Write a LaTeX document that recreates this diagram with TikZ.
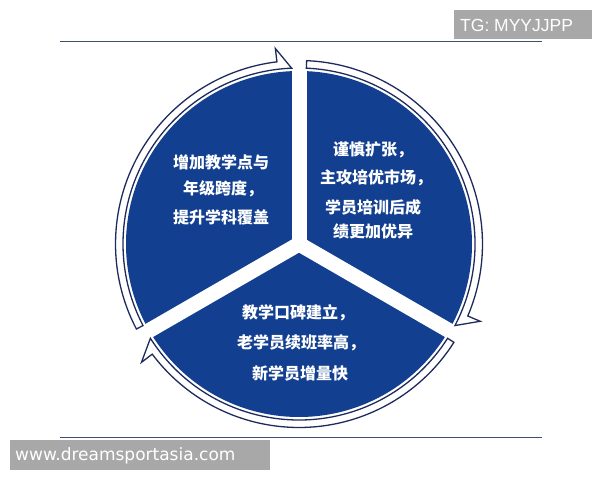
\documentclass[tikz,border=0pt]{standalone}
\usepackage{fontspec}
\newfontfamily\cjk{Noto Sans CJK SC}
\newfontfamily\wmfont{Liberation Sans}
\newfontfamily\urlfont{DejaVu Sans}
\definecolor{diskblue}{HTML}{123F8F}
\definecolor{navyline}{HTML}{1F2A5C}
\definecolor{rulecol}{HTML}{3E4D70}
\definecolor{wmgray}{HTML}{A8A8A8}
\begin{document}
\begin{tikzpicture}[x=1pt,y=1pt,
  ringstyle/.style={fill=white,draw=navyline,line width=1.3pt,line join=miter},
  spoke/.style={draw=white,line width=15pt,line cap=round},
  cjktext/.style={anchor=base west,inner sep=0pt,text=white,font=\cjk\bfseries\fontsize{16}{16}\selectfont},
  rulestyle/.style={draw=rulecol,line width=1.4pt},
  wmtext/.style={anchor=base west,inner sep=0pt,text=white}]
\useasboundingbox (0,0) rectangle (600,480);
\fill[white] (0,0) rectangle (600,480);
% rules
\draw[rulestyle] (60,438.5) -- (542,438.5);
\draw[rulestyle] (60,42.5) -- (542,42.5);
% disk
\coordinate (C) at (299,236);
\fill[diskblue] (C) circle[radius=173];
\foreach \a in {90,210,330} \draw[spoke] (C) -- ++(\a:174);
% ring arrows
\begin{scope}[shift={(C)}]
\draw[ringstyle] (207.6:183.5) arc[start angle=207.6,end angle=96.9,radius=183.5] -- (96.9:197) -- (92.4:176) arc[start angle=92.4,end angle=207.6,radius=176] -- cycle;
\draw[ringstyle] (87.6:183.5) arc[start angle=87.6,end angle=-23.1,radius=183.5] -- (-23.1:197) -- (-27.6:176) arc[start angle=-27.6,end angle=87.6,radius=176] -- cycle;
\draw[ringstyle] (-32.4:183.5) arc[start angle=-32.4,end angle=-143.1,radius=183.5] -- (-143.1:197) -- (-147.6:176) arc[start angle=-147.6,end angle=-32.4,radius=176] -- cycle;
\end{scope}
% texts
\node[cjktext] (l1) at (173,311) {增加教学点与};
\node[cjktext] (l2) at (183,285) {年级跨度，};
\node[cjktext] (l3) at (173,256) {提升学科覆盖};
\node[cjktext] (r1) at (333,324) {谨慎扩张，};
\node[cjktext] (r2) at (320,296) {主攻培优市场，};
\node[cjktext] (r3) at (325,266) {学员培训后成};
\node[cjktext] (r4) at (333,242) {绩更加优异};
\node[cjktext] (b1) at (242,161) {教学口碑建立，};
\node[cjktext] (b2) at (237,132) {老学员续班率高，};
\node[cjktext] (b3) at (252,101) {新学员增量快};
% watermarks
\fill[wmgray] (454,441) rectangle (592,470);
\node[wmtext,font=\wmfont\fontsize{17.5}{17.5}\selectfont] (tg) at (460,448) {TG: MYYJJPP};
\fill[wmgray] (10,10) rectangle (270,40);
\node[wmtext,font=\urlfont\fontsize{17}{17}\selectfont] (url) at (15,20) {www.dreamsportasia.com};
\end{tikzpicture}
\end{document}
